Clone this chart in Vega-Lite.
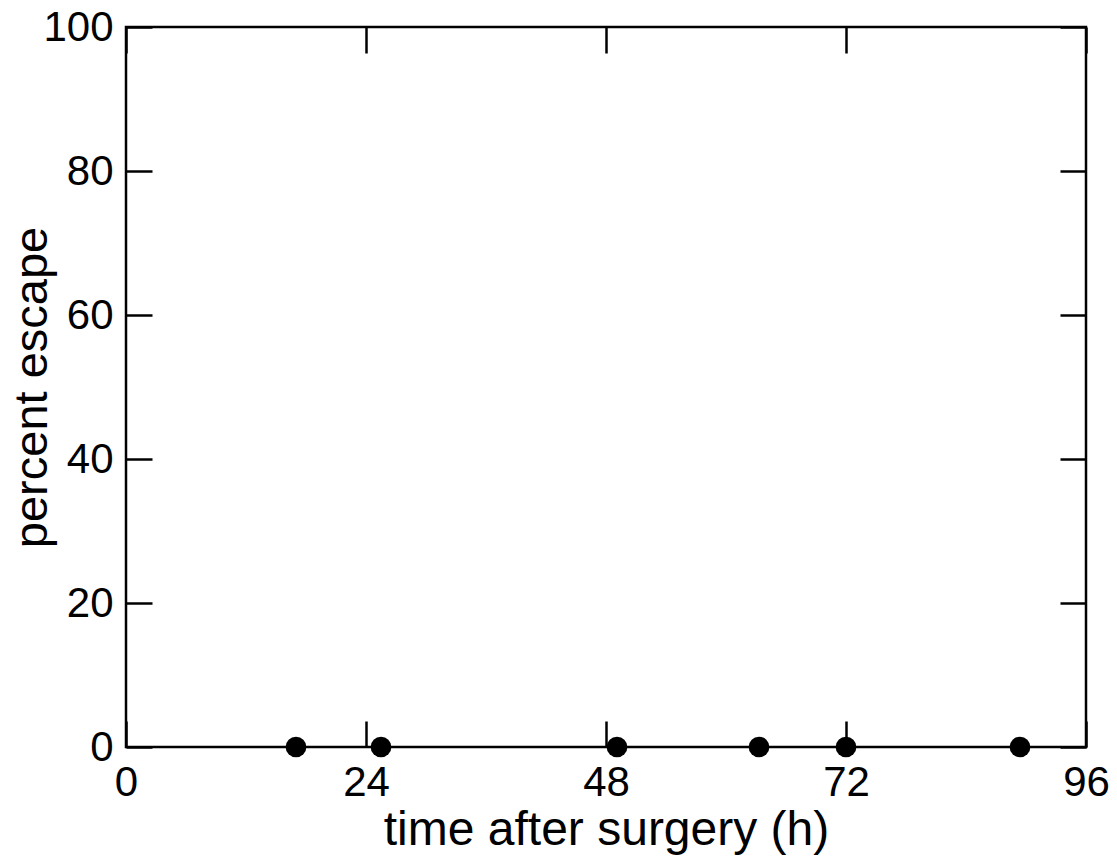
{
  "$schema": "https://vega.github.io/schema/vega-lite/v6.json",
  "width": 960,
  "height": 720,
  "autosize": {"type": "none"},
  "padding": {"left": 126, "top": 27, "right": 31, "bottom": 112},
  "background": "white",
  "config": {
    "view": {"stroke": "black", "strokeWidth": 2.5},
    "font": "Liberation Sans"
  },
  "data": {"values": [
    {"time": 17, "escape": 0},
    {"time": 25.5, "escape": 0},
    {"time": 49.1, "escape": 0},
    {"time": 63.3, "escape": 0},
    {"time": 72, "escape": 0},
    {"time": 89.4, "escape": 0}
  ]},
  "layer": [
    {
      "mark": {"type": "point", "filled": true, "color": "black", "opacity": 1, "size": 430, "clip": false},
      "encoding": {
        "x": {"field": "time", "type": "quantitative",
          "scale": {"domain": [0, 96], "nice": false},
          "axis": {"title": "time after surgery (h)", "values": [0, 24, 48, 72, 96], "grid": false,
            "domain": false, "tickColor": "black", "tickWidth": 2.5, "tickSize": -26, "labelFlush": false,
            "labelFontSize": 42, "labelColor": "black", "labelPadding": 41,
            "titleFontSize": 48, "titleFontWeight": "normal", "titleColor": "black", "titlePadding": 3}},
        "y": {"field": "escape", "type": "quantitative",
          "scale": {"domain": [0, 100], "nice": false},
          "axis": {"title": "percent escape", "values": [0, 20, 40, 60, 80, 100], "grid": false,
            "domain": false, "tickColor": "black", "tickWidth": 2.5, "tickSize": -26, "labelFlush": false,
            "labelFontSize": 42, "labelColor": "black", "labelPadding": 39,
            "titleFontSize": 47, "titleFontWeight": "normal", "titleColor": "black", "titlePadding": -14}}
      }
    },
    {
      "mark": {"type": "point", "opacity": 0},
      "encoding": {
        "x": {"field": "time", "type": "quantitative",
          "scale": {"domain": [0, 96], "nice": false},
          "axis": {"orient": "top", "title": null, "values": [0, 24, 48, 72, 96], "grid": false, "labels": false,
            "domain": false, "tickColor": "black", "tickWidth": 2.5, "tickSize": -26}},
        "y": {"field": "escape", "type": "quantitative",
          "scale": {"domain": [0, 100], "nice": false},
          "axis": {"orient": "right", "title": null, "values": [0, 20, 40, 60, 80, 100], "grid": false, "labels": false,
            "domain": false, "tickColor": "black", "tickWidth": 2.5, "tickSize": -26}}
      }
    }
  ],
  "resolve": {"axis": {"x": "independent", "y": "independent"}}
}
